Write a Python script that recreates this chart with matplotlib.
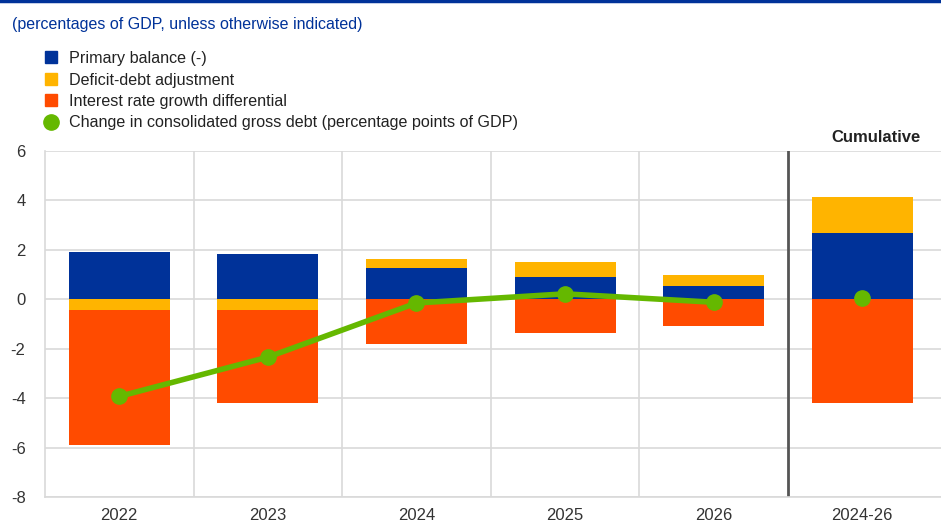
import matplotlib.pyplot as plt
import numpy as np
from matplotlib.lines import Line2D

plt.rcParams['font.family'] = ['Liberation Sans', 'DejaVu Sans']
plt.rcParams['axes.unicode_minus'] = False

categories = ['2022', '2023', '2024', '2025', '2026', '2024-26']
primary = [1.93, 1.82, 1.25, 0.89, 0.53, 2.70]
dda = [-0.42, -0.42, 0.36, 0.61, 0.46, 1.45]
irgd = [-5.47, -3.77, -1.80, -1.35, -1.08, -4.19]
debt = [-3.93, -2.34, -0.15, 0.22, -0.12, 0.06]

c_blue = '#003299'
c_yellow = '#ffb400'
c_red = '#ff4b00'
c_green = '#65b800'

fig = plt.figure(figsize=(9.41, 5.23), dpi=100)
ax = fig.add_axes([45/941, 1 - 497/523, 1 - 45/941, (497-151)/523])

x = np.arange(len(categories))
w = 0.68
pos = np.zeros(len(x))
neg = np.zeros(len(x))
for vals, col in [(primary, c_blue), (dda, c_yellow), (irgd, c_red)]:
    v = np.array(vals)
    bottom = np.where(v >= 0, pos, neg)
    ax.bar(x, v, w, bottom=bottom, color=col, zorder=3, linewidth=0)
    pos = pos + np.where(v >= 0, v, 0)
    neg = neg + np.where(v < 0, v, 0)

ax.plot(x[:5], debt[:5], color=c_green, lw=4, marker='o', ms=11, zorder=4)
ax.plot(x[5], debt[5], color=c_green, marker='o', ms=11, zorder=4, ls='none')

ax.set_xlim(-0.5, 5.53)
ax.set_ylim(-8, 6)
ax.set_yticks(range(-8, 7, 2))
ax.set_xticks(x)
ax.set_xticklabels(categories)
ax.tick_params(length=0, labelsize=12, colors='#333333', pad=8)
ax.tick_params(axis='y', pad=14)
ax.grid(axis='y', color='#d9d9d9', lw=1.2, zorder=0)
for xv in [0.5, 1.5, 2.5, 3.5]:
    ax.axvline(xv, color='#d9d9d9', lw=1.2, zorder=0)
ax.axvline(4.5, color='#555555', lw=2, zorder=2)
for s in ['top', 'right']:
    ax.spines[s].set_visible(False)
for s in ['left', 'bottom']:
    ax.spines[s].set_color('#d9d9d9')
    ax.spines[s].set_linewidth(1.2)

fig.text(876/941, 1 - 137/523, 'Cumulative', ha='center', va='center',
         fontsize=12, fontweight='bold', color='#222222')

fig.text(12/941, 1 - 24/523, '(percentages of GDP, unless otherwise indicated)',
         fontsize=11.5, color=c_blue, va='center')
fig.add_artist(Line2D([0, 1], [1 - 1/523, 1 - 1/523], color=c_blue, lw=2.5))

handles = [
    Line2D([], [], marker='s', ls='none', color=c_blue, ms=9),
    Line2D([], [], marker='s', ls='none', color=c_yellow, ms=9),
    Line2D([], [], marker='s', ls='none', color=c_red, ms=9),
    Line2D([], [], marker='o', ls='none', color=c_green, ms=11),
]
labels = ['Primary balance (-)', 'Deficit-debt adjustment',
          'Interest rate growth differential',
          'Change in consolidated gross debt (percentage points of GDP)']
fig.legend(handles, labels, loc='upper left', bbox_to_anchor=(35/941, 1 - 43/523),
           frameon=False, fontsize=11.6, handlelength=1.0, handletextpad=0.6,
           labelspacing=0.4, borderpad=0, labelcolor='#222222')

fig.savefig('out.png', dpi=100)
